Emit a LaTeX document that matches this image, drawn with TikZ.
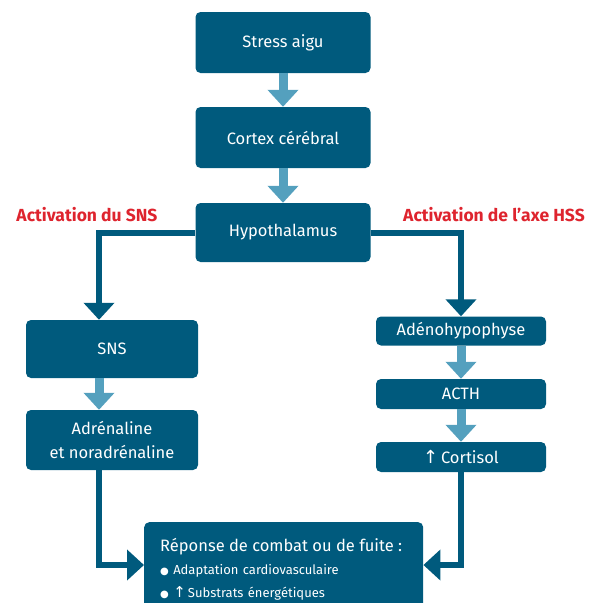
\documentclass[tikz,border=0pt]{standalone}
\usepackage{fontspec}
\setmainfont{Fira Sans}
\newfontfamily\symfont{DejaVu Sans}
\usetikzlibrary{arrows.meta}
\definecolor{boxblue}{RGB}{0,90,125}
\definecolor{arrowblue}{RGB}{84,160,190}
\definecolor{labred}{RGB}{222,36,46}
\begin{document}
\begin{tikzpicture}[x=1pt,y=-1pt,
  box/.style={fill=boxblue, rounded corners=5pt, text=white, inner sep=0pt,
    minimum width=175pt, minimum height=61pt, font=\fontsize{16.5}{19}\selectfont},
  slimbox/.style={box, minimum width=170pt, minimum height=29pt},
  larrow/.style={draw=arrowblue, line width=9pt, -{Triangle[width=30pt,length=17pt]}},
  darrow/.style={draw=boxblue, line width=6pt, -{Triangle[width=30pt,length=17pt]}},
  lab/.style={text=labred, font=\fontsize{17.5}{20}\selectfont\bfseries}]
\useasboundingbox (0,0) rectangle (593,603);
\node[box] (stress) at (283,42.5) {Stress aigu};
\node[box] (cortex) at (283,137.5) {Cortex cérébral};
\node[box, minimum height=59pt] (hypo) at (283,232.5) {Hypothalamus};
\node[box, minimum width=172pt, minimum height=58pt] (sns) at (112,349) {SNS};
\node[box, minimum width=172pt, minimum height=60pt, align=center, font=\fontsize{16.5}{24}\selectfont] (adr) at (112,440) {Adrénaline\\et noradrénaline};
\node[slimbox] (adeno) at (461,331) {Adénohypophyse};
\node[slimbox, minimum height=30pt] (acth) at (461,394) {ACTH};
\node[slimbox, minimum height=30pt] (cort) at (461,457) {{\symfont\fontsize{18}{19}\selectfont ↑}\,Cortisol};
\node[box, anchor=north west, minimum width=279pt, minimum height=95pt, align=left, inner xsep=16pt, inner ysep=9pt, font=\fontsize{13}{23}\selectfont, text width=247pt] (resp) at (144,522)
  {{\fontsize{16.5}{19}\selectfont Réponse de combat ou de fuite :}\\
   {\symfont\fontsize{10}{19}\selectfont ●} Adaptation cardiovasculaire\\
   {\symfont\fontsize{10}{19}\selectfont ●} {\symfont\fontsize{15}{19}\selectfont ↑}\,Substrats énergétiques\\[20pt]};
\node[lab] (labl) at (87,215) {Activation du SNS};
\node[lab] (labr) at (494,215) {Activation de l’axe HSS};
\draw[larrow] (stress) -- (cortex);
\draw[larrow] (cortex) -- (hypo);
\draw[larrow] ([xshift=-13pt]sns.south) -- ([xshift=-13pt]adr.north);
\draw[larrow] (adeno) -- (acth);
\draw[larrow] (acth) -- (cort);
\draw[darrow] (hypo.west) -| ([xshift=-13pt]sns.north);
\draw[darrow] (hypo.east) -| (adeno.north);
\coordinate (jl) at (99,565);
\coordinate (jr) at (461,565);
\draw[darrow] ([xshift=-13pt]adr.south) |- (resp.west |- jl);
\draw[darrow] (cort.south) |- (resp.east |- jr);
\end{tikzpicture}
\end{document}
